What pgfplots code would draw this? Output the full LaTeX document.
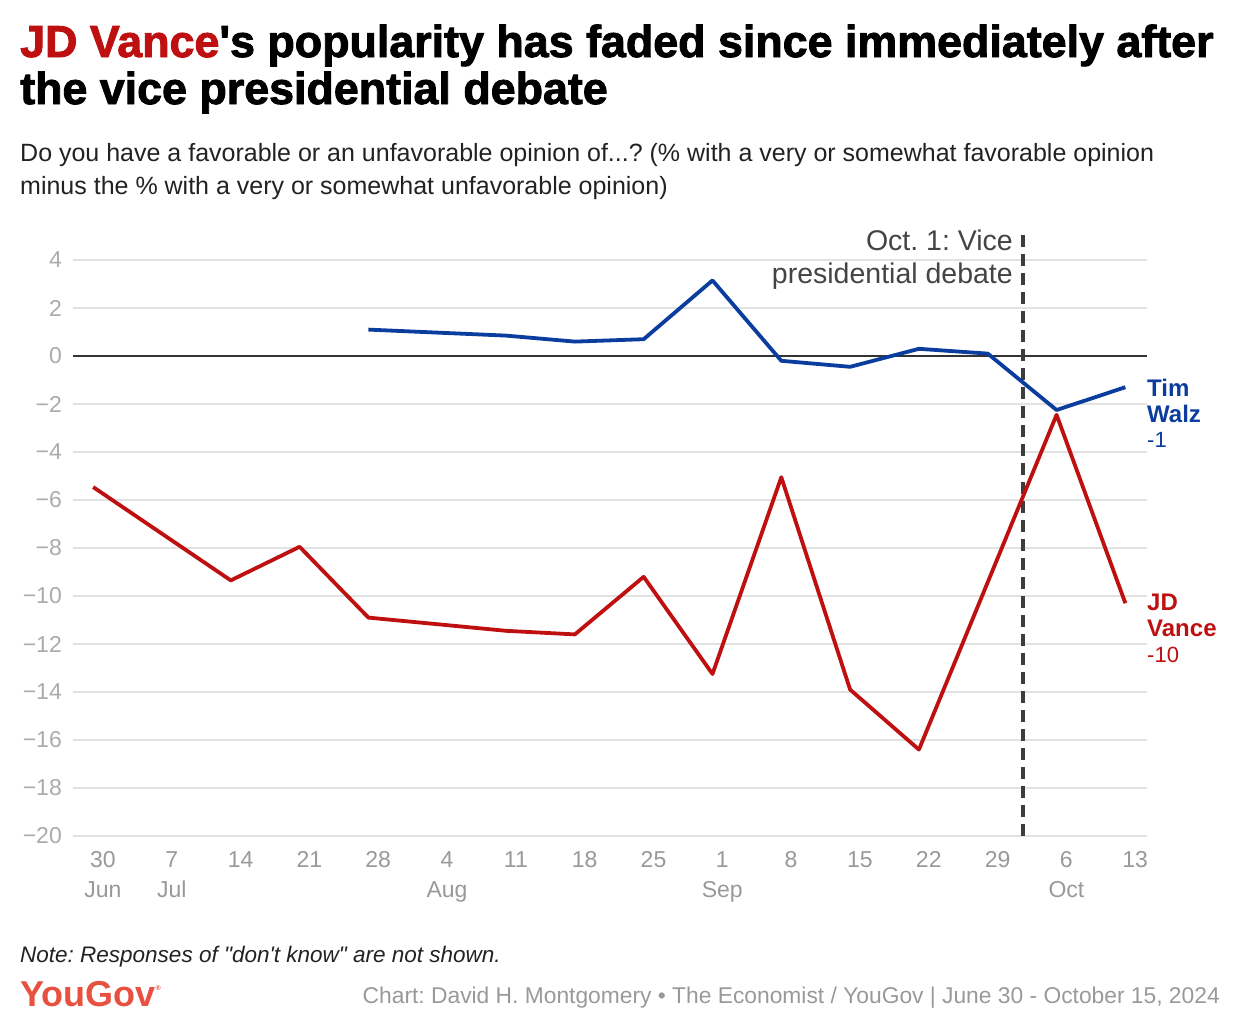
\documentclass[border=0pt]{standalone}
\usepackage{pgfplots}
\pgfplotsset{compat=1.18}
\usepackage{fontspec}
\setmainfont{Liberation Sans}
\newfontfamily\titlefont{Liberation Sans}[FakeBold=2]
\definecolor{vred}{HTML}{BE1010}
\definecolor{wblue}{HTML}{0B3D9E}
\definecolor{gridgray}{HTML}{E2E2E2}
\definecolor{tickgray}{HTML}{999999}
\definecolor{ytickgray}{HTML}{ABABAB}
\definecolor{darktext}{HTML}{222222}
\definecolor{annot}{HTML}{444444}
\definecolor{yougov}{HTML}{E8513F}
\definecolor{foot}{HTML}{999999}
\frenchspacing
\begin{document}
\begin{tikzpicture}
\useasboundingbox (0,0) rectangle (1240pt,-1034pt);
% title
\node[anchor=base west, inner sep=0pt] at (20pt,-57pt) {\titlefont\bfseries\fontsize{44.8}{50}\selectfont{\color{vred}JD Vance}\textquotesingle s popularity has faded since immediately after};
\node[anchor=base west, inner sep=0pt] at (20pt,-104pt) {\titlefont\bfseries\fontsize{44.8}{50}\selectfont the vice presidential debate};
% subtitle
\node[anchor=base west, inner sep=0pt, text=darktext] at (20pt,-161pt) {\fontsize{25}{30}\selectfont Do you have a favorable or an unfavorable opinion of...? (\% with a very or somewhat favorable opinion};
\node[anchor=base west, inner sep=0pt, text=darktext] at (20pt,-194pt) {\fontsize{25}{30}\selectfont minus the \% with a very or somewhat unfavorable opinion)};
\begin{axis}[
  at={(73pt,-836pt)}, anchor=south west,
  scale only axis, width=1074pt, height=604pt,
  xmin=-3.05, xmax=106.2, ymin=-20, ymax=5.1667,
  clip=false,
  axis line style={draw=none},
  major tick length=0pt,
  ytick={-20,-18,...,4},
  yticklabels={−20,−18,−16,−14,−12,−10,−8,−6,−4,−2,0,2,4},
  xtick={0,7,14,21,28,35,42,49,56,63,70,77,84,91,98,105},
  xticklabels={30\\Jun,7\\Jul,14,21,28,4\\Aug,11,18,25,1\\Sep,8,15,22,29,6\\Oct,13},
  ymajorgrids,
  grid style={color=gridgray, line width=1.2pt},
  yticklabel style={font=\fontsize{23}{30}\selectfont, text=ytickgray, anchor=east, inner sep=0pt, xshift=-11pt},
  xticklabel style={font=\fontsize{23}{30}\selectfont, text=tickgray, anchor=north, inner sep=0pt, align=center, yshift=-15pt},
]
\addplot[color=black!80, line width=1.5pt, forget plot] coordinates {(-3.05,0) (106.2,0)};
\draw[color=annot!90!black, line width=3.5pt, dash pattern=on 12pt off 7pt] (axis cs:93.6,-20) -- (axis cs:93.6,5.1667);
\addplot[color=vred, line width=3.8pt, line join=round] coordinates {
(-1,-5.46) (13,-9.35) (20,-7.95) (27,-10.9) (41,-11.45) (48,-11.6) (55,-9.2) (62,-13.25) (69,-5.05) (76,-13.9) (83,-16.4) (97,-2.45) (104,-10.3)
};
\addplot[color=wblue, line width=3.8pt, line join=round] coordinates {
(27,1.1) (41,0.85) (48,0.6) (55,0.7) (62,3.15) (69,-0.2) (76,-0.45) (83,0.3) (90,0.1) (97,-2.25) (104,-1.3)
};
\end{axis}
% annotation
\node[anchor=base east, inner sep=0pt, text=annot] at (1013pt,-250pt) {\fontsize{28.5}{30}\selectfont Oct. 1: Vice};
\node[anchor=base east, inner sep=0pt, text=annot] at (1013pt,-283pt) {\fontsize{28.5}{30}\selectfont presidential debate};
% end labels
\node[anchor=base west, inner sep=0pt, text=wblue] at (1147pt,-396pt) {\fontsize{24}{30}\selectfont\bfseries Tim};
\node[anchor=base west, inner sep=0pt, text=wblue] at (1147pt,-422pt) {\fontsize{24}{30}\selectfont\bfseries Walz};
\node[anchor=base west, inner sep=0pt, text=wblue] at (1147pt,-447pt) {\fontsize{22}{30}\selectfont -1};
\node[anchor=base west, inner sep=0pt, text=vred] at (1147pt,-610pt) {\fontsize{24}{30}\selectfont\bfseries JD};
\node[anchor=base west, inner sep=0pt, text=vred] at (1147pt,-636pt) {\fontsize{24}{30}\selectfont\bfseries Vance};
\node[anchor=base west, inner sep=0pt, text=vred] at (1147pt,-662pt) {\fontsize{22}{30}\selectfont -10};
% note and footer
\node[anchor=base west, inner sep=0pt, text=darktext] at (20pt,-962pt) {\fontsize{22.5}{26}\selectfont\itshape Note: Responses of \textquotedbl don\textquotesingle t know\textquotedbl{} are not shown.};
\node[anchor=base west, inner sep=0pt, text=yougov] at (20pt,-1006pt) {\fontsize{36}{40}\selectfont\bfseries YouGov\raisebox{16pt}{\fontsize{7}{8}\selectfont ®}};
\node[anchor=base east, inner sep=0pt, text=foot] at (1220pt,-1003pt) {\fontsize{22.8}{26}\selectfont Chart: David H. Montgomery • The Economist / YouGov | June 30 - October 15, 2024};
\end{tikzpicture}
\end{document}
